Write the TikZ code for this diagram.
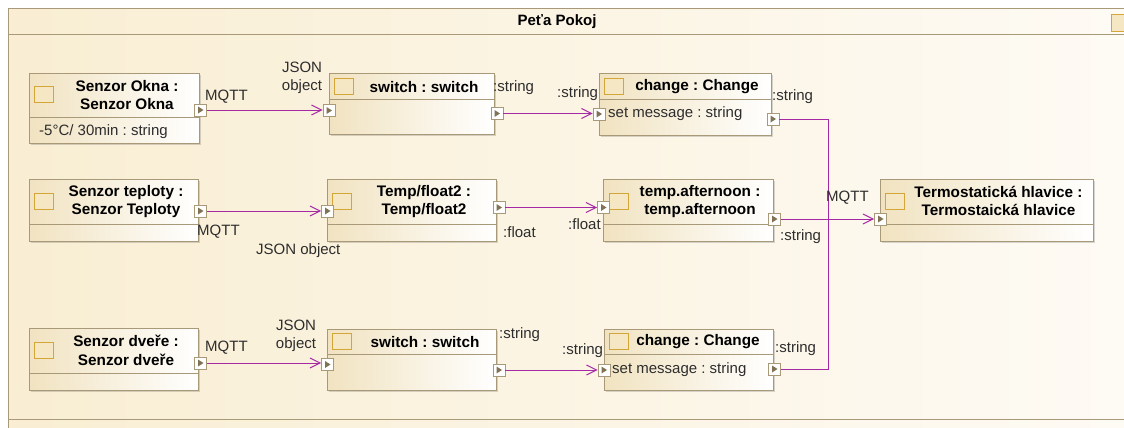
\documentclass[tikz,border=0pt]{standalone}
\usepackage{fontspec}
\setmainfont{Liberation Sans}
\frenchspacing
\usetikzlibrary{arrows.meta,shadows,calc}
\definecolor{framel}{RGB}{249,238,211}
\definecolor{framer}{RGB}{254,251,245}
\definecolor{boxborder}{RGB}{168,154,120}
\definecolor{boxl}{RGB}{241,227,193}
\definecolor{iconfill}{RGB}{245,230,196}
\definecolor{icongold}{RGB}{212,165,55}
\definecolor{wire}{RGB}{165,40,165}
\definecolor{labelc}{RGB}{45,45,45}
\definecolor{portarrow}{RGB}{128,115,85}
\newcommand\myport[2]{\node[port] (#1) at (#2) {};
  \fill[portarrow] ([xshift=-2.5pt,yshift=3.5pt]#1.center) -- ([xshift=3pt]#1.center) -- ([xshift=-2.5pt,yshift=-3.5pt]#1.center) -- cycle;}
\newcommand\mysep[2]{\draw[sepline] ([yshift=-#2pt]#1.north west) -- ([yshift=-#2pt]#1.north east);}
\begin{document}
\begin{tikzpicture}[x=1pt,y=-1pt,
  umlbox/.style={draw=boxborder, line width=1pt, left color=boxl, right color=white, anchor=north west, inner sep=0pt,
    drop shadow={shadow xshift=1.5pt, shadow yshift=-1.5pt, fill=black, opacity=0.15}},
  sepline/.style={draw=boxborder, line width=1pt},
  port/.style={draw=boxborder, fill=white, line width=0.9pt, minimum size=12pt, inner sep=0pt},
  icon/.style={draw=icongold, fill=iconfill, line width=0.9pt, minimum width=19pt, minimum height=16pt, inner sep=0pt},
  title/.style={font=\fontsize{15.3}{18.5}\selectfont\bfseries, align=center, inner sep=0pt, text=black},
  lbl/.style={font=\fontsize{15}{18}\selectfont, text=labelc, inner sep=0pt, anchor=west, text height=11pt, text depth=3pt},
  lblc/.style={font=\fontsize{15}{18}\selectfont, text=labelc, inner sep=0pt, align=center},
  wireline/.style={draw=wire, line width=1pt},
  wirearrow/.style={wireline, -{Straight Barb[length=10pt,width=10pt,line width=1pt]}}
]
\useasboundingbox (0,0) rectangle (1124,428);
\clip (0,0) rectangle (1124,428);
\fill[white] (0,0) rectangle (1124,428);
% frame
\fill[left color=framel, right color=framer] (8,9) rectangle (1140,440);
\draw[boxborder, line width=1pt] (8,440) -- (8,9) -- (1140,9);
\draw[boxborder, line width=1pt] (8,35) -- (1140,35);
\draw[boxborder, line width=1pt] (8,419) -- (1140,419);
\node[font=\fontsize{15}{18}\selectfont\bfseries, inner sep=0pt] (frametitle) at (557,22) {Peťa Pokoj};
\node[icon, anchor=north west, minimum width=20pt, minimum height=17pt] (frameicon) at (1111,14) {};

% boxes
\node[umlbox, minimum width=170pt, minimum height=70pt] (SO) at (29,73) {};
\mysep{SO}{44}
\node[umlbox, minimum width=165pt, minimum height=61pt] (SW1) at (329,73) {};
\mysep{SW1}{26}
\node[umlbox, minimum width=172pt, minimum height=62pt] (CH1) at (599,73) {};
\mysep{CH1}{26}
\node[umlbox, minimum width=169pt, minimum height=62pt] (ST) at (29,179) {};
\mysep{ST}{45}
\node[umlbox, minimum width=169pt, minimum height=62pt] (TF) at (327,179) {};
\mysep{TF}{45}
\node[umlbox, minimum width=170pt, minimum height=62pt] (TA) at (603,179) {};
\mysep{TA}{45}
\node[umlbox, minimum width=213pt, minimum height=62pt] (TH) at (880,179) {};
\mysep{TH}{45}
\node[umlbox, minimum width=169pt, minimum height=62pt] (SD) at (29,328) {};
\mysep{SD}{45}
\node[umlbox, minimum width=169pt, minimum height=61pt] (SW3) at (327,329) {};
\mysep{SW3}{25}
\node[umlbox, minimum width=169pt, minimum height=61pt] (CH3) at (604,329) {};
\mysep{CH3}{25}

% icons
\node[icon] (SOi) at (43.5,94.5) {};
\node[icon] (SW1i) at (344,86) {};
\node[icon] (CH1i) at (614,86) {};
\node[icon] (STi) at (44,201) {};
\node[icon] (TFi) at (341.5,201) {};
\node[icon] (TAi) at (618.5,201) {};
\node[icon] (THi) at (895,201) {};
\node[icon] (SDi) at (44,350) {};
\node[icon] (SW3i) at (341.5,341.5) {};
\node[icon] (CH3i) at (619,341.5) {};

% titles
\node[title] (SOt) at (127,95) {Senzor Okna :\\Senzor Okna};
\node[title] (SW1t) at (424,87) {switch : switch};
\node[title] (CH1t) at (697,87) {change : Change};
\node[title] (STt) at (126,201.5) {Senzor teploty :\\Senzor Teploty};
\node[title] (TFt) at (424,201.5) {Temp/float2 :\\Temp/float2};
\node[title] (TAt) at (700,201.5) {temp.afternoon :\\temp.afternoon};
\node[title] (THt) at (998.5,201) {Termostatická hlavice :\\Termostaická hlavice};
\node[title] (SDt) at (126,350.5) {Senzor dveře :\\Senzor dveře};
\node[title] (SW3t) at (425,342) {switch : switch};
\node[title] (CH3t) at (698,342) {change : Change};

% compartment texts
\node[lbl] (SOattr) at (39,131) {-5°C/ 30min : string};
\node[lbl] (CH1attr) at (608,113) {set message : string};
\node[lbl] (CH3attr) at (612,369) {set message : string};

% ports
\myport{SOp}{200.5,110}
\myport{SW1in}{329,110.5}
\myport{SW1out}{497,113.5}
\myport{CH1in}{599,114}
\myport{CH1out}{773,119}
\myport{STp}{200.5,211}
\myport{TFin}{327.5,211}
\myport{TFout}{499,207.5}
\myport{TAin}{603.5,207.5}
\myport{TAout}{774.5,219}
\myport{THin}{880.5,219}
\myport{SDp}{200.5,363}
\myport{SW3in}{327.5,364.5}
\myport{SW3out}{499,370}
\myport{CH3in}{604,370}
\myport{CH3out}{774.5,369}

% connectors
\coordinate (J) at (828,219);
\draw[wirearrow] (SOp.east) -- (SOp.east -| SW1in.west);
\draw[wirearrow] (SW1out.east) -- (SW1out.east -| CH1in.west);
\draw[wirearrow] (STp.east) -- (STp.east -| TFin.west);
\draw[wirearrow] (TFout.east) -- (TFout.east -| TAin.west);
\draw[wirearrow] (SDp.east) -- (SDp.east -| SW3in.west);
\draw[wirearrow] (SW3out.east) -- (SW3out.east -| CH3in.west);
\draw[wirearrow] (TAout.east) -- (TAout.east -| THin.west);
\draw[wireline] (CH1out.east) -| (J);
\draw[wireline] (CH3out.east) -| (J);

% labels
\node[lbl] (l1) at (205,96) {MQTT};
\node[lblc] (l2) at (302,78) {JSON\\object};
\node[lbl] (l3) at (493,88) {:string};
\node[lbl] (l4) at (557,93) {:string};
\node[lbl] (l5) at (772,96) {:string};
\node[lbl] (l6) at (197,231) {MQTT};
\node[lbl] (l7) at (256,250) {JSON object};
\node[lbl] (l8) at (503,233) {:float};
\node[lbl] (l9) at (568,225) {:float};
\node[lbl] (l10) at (780,236) {:string};
\node[lbl] (l11) at (826,197) {MQTT};
\node[lbl] (l12) at (205,347) {MQTT};
\node[lblc] (l13) at (296,335.5) {JSON\\object};
\node[lbl] (l14) at (499,334) {:string};
\node[lbl] (l15) at (562,350) {:string};
\node[lbl] (l16) at (775,348) {:string};
\end{tikzpicture}
\end{document}
